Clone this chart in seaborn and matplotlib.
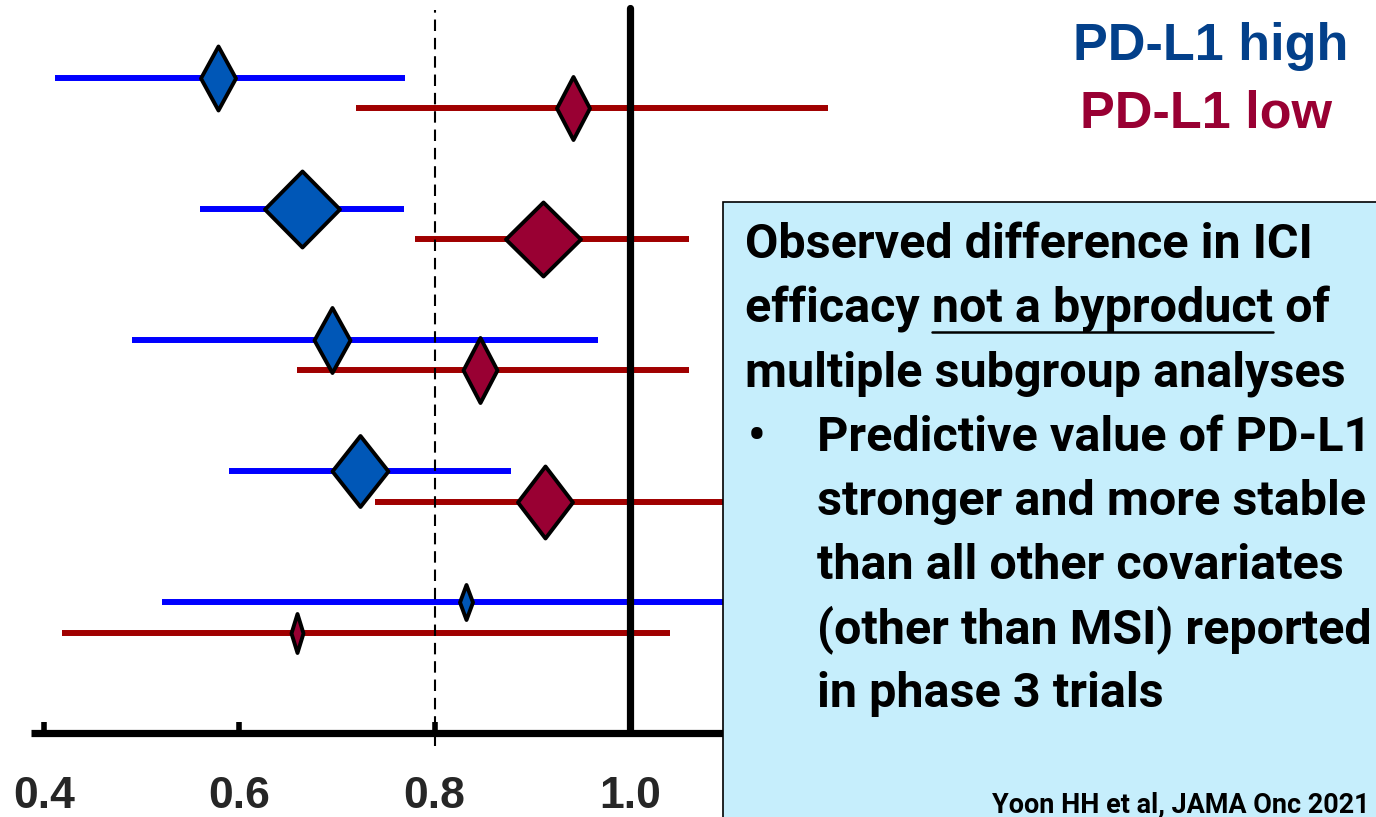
import matplotlib
matplotlib.use("Agg")
import matplotlib.pyplot as plt
import seaborn as sns
import numpy as np
import pandas as pd
from matplotlib.path import Path
from matplotlib.markers import MarkerStyle
from matplotlib.patches import Rectangle
from matplotlib.lines import Line2D
from matplotlib.font_manager import FontProperties, fontManager

# ---------------- data ----------------
groups = [1, 2, 3, 4, 5]
high_est = [0.578, 0.664, 0.695, 0.724, 0.832]
high_lo = [0.411, 0.560, 0.490, 0.590, 0.521]
high_hi = [0.770, 0.769, 0.967, 0.878, 1.300]
low_est = [0.942, 0.911, 0.846, 0.913, 0.659]
low_lo = [0.720, 0.780, 0.659, 0.739, 0.418]
low_hi = [1.203, 1.061, 1.061, 1.150, 1.041]
tick_values = [0.4, 0.6, 0.8, 1.0]
tick_labels = ["0.4", "0.6", "0.8", "1.0"]
legend_labels = ["PD-L1 high", "PD-L1 low"]
box_lines = [
    "Observed difference in ICI",
    "efficacy not a byproduct of",
    "multiple subgroup analyses",
    "Predictive value of PD-L1",
    "stronger and more stable",
    "than all other covariates",
    "(other than MSI) reported",
    "in phase 3 trials",
]
citation = "Yoon HH et al, JAMA Onc 2021"

# ---------------- style ----------------
W, H, DPI = 1376, 817, 100
# diamond (width, height) in pixels for each row
high_diam = [(35, 64), (75, 76), (36, 65), (56, 71), (13, 35)]
low_diam = [(33, 63), (75, 74), (34, 65), (55, 72), (12, 39)]
OFF = 0.118

sns.set_theme(style="white")
plt.rcParams["font.family"] = ["Liberation Sans", "DejaVu Sans"]
names = {f.name for f in fontManager.ttflist}
body_font = "Liberation Sans Narrow" if "Liberation Sans Narrow" in names else "Roboto"

fig = plt.figure(figsize=(W / DPI, H / DPI), dpi=DPI)
fig.patch.set_facecolor("white")
axis_px = 733
ax = fig.add_axes([0, (H - axis_px) / H, 1, axis_px / H])
ax.set_facecolor("white")

df = pd.DataFrame({
    "group": groups * 2,
    "est": high_est + low_est,
    "lo": high_lo + low_lo,
    "hi": high_hi + low_hi,
    "series": ["high"] * 5 + ["low"] * 5,
})
df["y"] = np.where(df["series"] == "high", df["group"] - OFF, df["group"] + OFF)
diams = high_diam + low_diam

line_col = {"high": "#0000FF", "low": "#A00000"}
fill_col = {"high": "#0057B7", "low": "#990033"}

# CI lines
for s in ["high", "low"]:
    sub = df[df.series == s]
    ax.hlines(sub["y"], sub["lo"], sub["hi"], color=line_col[s], lw=4.3, zorder=2,
              capstyle="butt")

# reference lines
ax.axvline(0.8, ymin=-0.018, ymax=0.986, color="black", lw=1.5,
           dashes=(5.5, 3.3), zorder=3, clip_on=False)
ax.axvline(1.0, ymin=0, ymax=1 - 8 / axis_px, color="black", lw=5.2, zorder=3)

# diamonds
for i, row in df.iterrows():
    w, h = diams[i]
    a = w / h
    m = max(w, h)
    verts = [(0, 1), (a, 0), (0, -1), (-a, 0), (0, 1)] if h >= w else \
            [(0, 1 / a), (1, 0), (0, -1 / a), (-1, 0), (0, 1 / a)]
    path = Path(verts, [Path.MOVETO, Path.LINETO, Path.LINETO, Path.LINETO, Path.CLOSEPOLY])
    pts = m * 72 / DPI
    sns.scatterplot(x=[row["est"]], y=[row["y"]], marker=MarkerStyle(path),
                    s=pts ** 2, color=fill_col[row["series"]], edgecolor="black",
                    linewidth=2.8, zorder=4, ax=ax, legend=False)

ax.set_xlim(0.355, 1.764)
ax.set_ylim(5.885, 0.29)
ax.set_xlabel("")
ax.set_ylabel("")
ax.set_yticks([])
for sp in ["top", "left", "right"]:
    ax.spines[sp].set_visible(False)
ax.spines["bottom"].set_linewidth(5.2)
ax.spines["bottom"].set_color("black")
ax.spines["bottom"].set_bounds(0.387, 1.76)
ax.spines["bottom"].set_capstyle("butt")
ax.set_xticks(tick_values)
ax.set_xticklabels(tick_labels)
ax.tick_params(axis="x", direction="in", length=8, width=4, color="black", pad=31,
               bottom=True, labelsize=32)
for lab in ax.get_xticklabels():
    lab.set_fontweight("bold")
    lab.set_family(["Liberation Sans", "DejaVu Sans"])

# legend texts
fig.text(1211 / W, 1 - 60 / H, legend_labels[0], color="#03408A", fontsize=37.5,
         fontweight="bold", ha="center", va="baseline")
fig.text(1206 / W, 1 - 128 / H, legend_labels[1], color="#990033", fontsize=37.5,
         fontweight="bold", ha="center", va="baseline")

# info box
box = Rectangle((723 / W, -0.1), 0.6, 1.1 - 202 / H, transform=fig.transFigure,
                facecolor="#C6EEFC", edgecolor="black", lw=1.2, zorder=10)
fig.add_artist(box)

renderer = fig.canvas.get_renderer()
def text_w(s, fp):
    w, h, d = renderer.get_text_width_height_descent(s, fp, ismath=False)
    return w

fp0 = FontProperties(family=body_font, weight="bold", size=40)
fs = 40 * 567 / text_w(box_lines[0], fp0)
fp = FontProperties(family=body_font, weight="bold", size=fs)

base0, step = 258, 64.2
x_main, x_ind = 745, 817
for k, line in enumerate(box_lines):
    x = x_main if k < 3 else x_ind
    yb = base0 + k * step
    fig.text(x / W, 1 - yb / H, line, fontproperties=fp, color="black",
             ha="left", va="baseline", zorder=11)
    if k == 1:
        pre = "efficacy n"
        x0 = x + text_w(pre, fp) - text_w("n", fp)
        x1 = x + text_w("efficacy not a byproduct", fp)
        fig.add_artist(Line2D([x0 / W, x1 / W], [1 - (yb + 10) / H] * 2,
                              transform=fig.transFigure, color="black", lw=1.8,
                              zorder=11))
fig.text(748 / W, 1 - (base0 + 3 * step) / H, "\u2022", fontproperties=fp,
         color="black", ha="left", va="baseline", zorder=11)

# citation: sized close to the reference, kept inside the figure
fpc0 = FontProperties(family=body_font, weight="bold", size=20)
fsc = 20 * 330 / text_w("Yoon HH et al, JAMA Onc 2", fpc0)
fpc = FontProperties(family=body_font, weight="bold", size=fsc)
full_w = text_w(citation, fpc)
xc = min(1023, 1370 - full_w)
fig.text(xc / W, 1 - 813 / H, citation, fontproperties=fpc, color="black",
         ha="left", va="baseline", zorder=11)

fig.savefig("out.png", dpi=DPI, facecolor="white")
